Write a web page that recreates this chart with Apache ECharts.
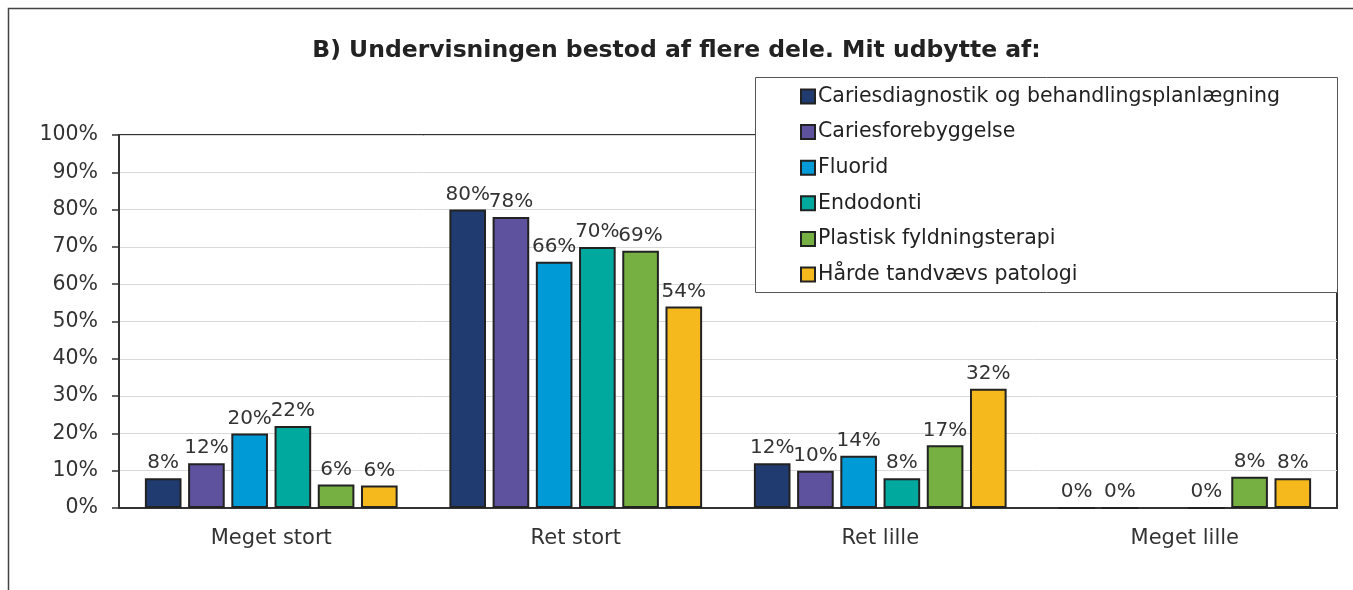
<!DOCTYPE html>
<html>
<head>
<meta charset="utf-8">
<script src="https://cdn.jsdelivr.net/npm/echarts@6/dist/echarts.min.js"></script>
<style>html,body{margin:0;padding:0;background:#fff;}#c{width:1353px;height:590px;}</style>
</head>
<body>
<div id="c"></div>
<script>
const categories = ['Meget stort', 'Ret stort', 'Ret lille', 'Meget lille'];
const seriesNames = ['Cariesdiagnostik og behandlingsplanlægning', 'Cariesforebyggelse', 'Fluorid', 'Endodonti', 'Plastisk fyldningsterapi', 'Hårde tandvævs patologi'];
const cariesdiagnostik = [8, 80, 12, 0];
const cariesforebyggelse = [12, 78, 10, 0];
const fluorid = [20, 66, 14, null];
const endodonti = [22, 70, 8, 0];
const plastisk = [6.3, 69, 16.8, 8.4];
const haarde = [6, 54, 32, 8];
const yTicks = [0, 10, 20, 30, 40, 50, 60, 70, 80, 90, 100];
const colors = ['#1F3B70', '#5E529E', '#009AD7', '#00A99D', '#76B043', '#F5B91D'];
const title = 'B) Undervisningen bestod af flere dele. Mit udbytte af:';

const allData = [cariesdiagnostik, cariesforebyggelse, fluorid, endodonti, plastisk, haarde];
const FONT = 'DejaVu Sans';

const chart = echarts.init(document.getElementById('c'), null, {renderer: 'canvas'});
chart.setOption({
  backgroundColor: '#fff',
  animation: false,
  textStyle: {fontFamily: FONT},
  graphic: [{
    type: 'rect', left: 6, top: 6, z: -1, silent: true,
    shape: {width: 1346, height: 600},
    style: {fill: 'none', stroke: '#444', lineWidth: 1.5}
  }, {
    type: 'rect', left: 755, top: 77, z: 10, silent: true,
    shape: {width: 582, height: 215},
    style: {fill: '#fff', stroke: '#555', lineWidth: 1}
  }],
  title: {
    text: title, left: 'center', top: 34,
    textStyle: {fontFamily: FONT, fontSize: 23.5, fontWeight: 'bold', color: '#222'}
  },
  legend: {
    orient: 'vertical', left: 800, top: 86, z: 20,
    padding: 0,
    itemWidth: 14, itemHeight: 14, itemGap: 14.6,
    icon: 'rect',
    itemStyle: {borderColor: '#222', borderWidth: 2},
    textStyle: {fontFamily: FONT, fontSize: 20.5, color: '#222', lineHeight: 20, padding: [0, 0, 0, -2]},
    data: seriesNames
  },
  grid: {left: 119, right: 16, top: 135, bottom: 82, show: true, borderColor: '#333', borderWidth: 2, backgroundColor: 'transparent'},
  xAxis: {
    type: 'category', data: categories,
    axisLine: {lineStyle: {color: '#333', width: 2}},
    axisTick: {show: false},
    axisLabel: {fontFamily: FONT, fontSize: 21, color: '#333', margin: 20}
  },
  yAxis: {
    type: 'value', min: yTicks[0], max: yTicks[yTicks.length - 1], interval: 10,
    axisLine: {show: true, lineStyle: {color: '#333', width: 2}},
    axisTick: {show: true, length: 7, lineStyle: {color: '#333', width: 1.5}},
    splitLine: {lineStyle: {color: '#d9d9d9', width: 1}},
    axisLabel: {fontFamily: FONT, fontSize: 20.5, color: '#333', margin: 21, formatter: v => v + '%'}
  },
  series: seriesNames.map((name, i) => ({
    name: name, type: 'bar', data: allData[i],
    barGap: '18%', barCategoryGap: '17%',
    itemStyle: {color: colors[i], borderColor: '#222', borderWidth: 2},
    label: {
      show: true, position: 'top', distance: 5,
      fontFamily: FONT, fontSize: 20, color: '#333',
      formatter: p => (p.value == null ? '' : Math.round(p.value) + '%')
    }
  }))
});
</script>
</body>
</html>
